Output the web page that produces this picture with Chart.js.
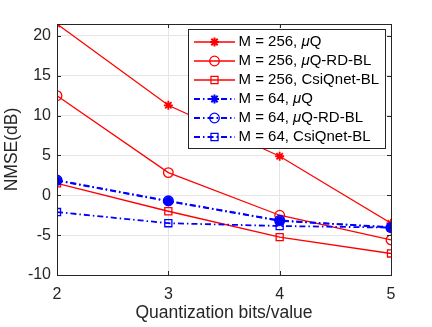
<!DOCTYPE html>
<html>
<head>
<meta charset="utf-8">
<script src="https://cdn.jsdelivr.net/npm/chart.js@4"></script>
<style>
  body { margin: 0; background: #fff; }
  #wrap { width: 432px; height: 327px; }
</style>
</head>
<body>
<div id="wrap"><canvas id="nmse-chart" width="432" height="327"></canvas></div>
<script>
// Data
var bits = [2, 3, 4, 5];
var yTicks = [-10, -5, 0, 5, 10, 15, 20];

var m256_uq = [21.5, 11.3, 4.9, -3.5];
var m256_uqrd = [12.5, 2.85, -2.5, -5.6];
var m256_csiq = [1.5, -2.0, -5.25, -7.3];
var m64_uq = [1.85, -0.75, -3.2, -4.0];
var m64_uqrd = [1.9, -0.7, -3.15, -4.05];
var m64_csiq = [-2.1, -3.5, -3.85, -4.05];

var seriesLabels = [
    "M = 256, μQ",
    "M = 256, μQ-RD-BL",
    "M = 256, CsiQnet-BL",
    "M = 64, μQ",
    "M = 64, μQ-RD-BL",
    "M = 64, CsiQnet-BL"
];

var RED = "#ff0000";
var BLUE = "#0000ff";
var INK = "#262626";
var FONT = "'Liberation Sans', Arial, sans-serif";

function makeSet(label, values, color, marker, dashed, radius, markerWidth) {
    var pts = [];
    for (var i = 0; i < bits.length; i++) {
        pts.push({ x: bits[i], y: values[i] });
    }
    return {
        label: label,
        data: pts,
        borderColor: color,
        backgroundColor: "rgba(0,0,0,0)",
        borderWidth: dashed ? 1.8 : 1.3,
        borderDash: dashed ? [6, 3, 1.5, 3] : [],
        pointStyle: marker,
        pointRadius: radius,
        pointBorderWidth: markerWidth,
        pointBorderColor: color,
        pointBackgroundColor: "rgba(0,0,0,0)",
        tension: 0,
        fill: false
    };
}

var datasets = [
    makeSet(seriesLabels[0], m256_uq, RED, "star", false, 4.5, 1.8),
    makeSet(seriesLabels[1], m256_uqrd, RED, "circle", false, 4.8, 1.3),
    makeSet(seriesLabels[2], m256_csiq, RED, "rect", false, 5, 1.3),
    makeSet(seriesLabels[3], m64_uq, BLUE, "star", true, 4.5, 3.2),
    makeSet(seriesLabels[4], m64_uqrd, BLUE, "circle", true, 4.8, 1.6),
    makeSet(seriesLabels[5], m64_csiq, BLUE, "rect", true, 5, 1.3)
];
// matlab style: later series on top
for (var d = 0; d < datasets.length; d++) {
    datasets[d].order = datasets.length - d;
}

// Box around the axes + inward tick marks
var boxPlugin = {
    id: "box",
    afterDraw: function (chart) {
        var ctx = chart.ctx, a = chart.chartArea;
        var xs = chart.scales.x, ys = chart.scales.y;
        ctx.save();
        ctx.strokeStyle = INK;
        ctx.lineWidth = 1;
        ctx.beginPath();
        for (var i = 0; i < bits.length; i++) {
            var px = Math.round(xs.getPixelForValue(bits[i])) + 0.5;
            ctx.moveTo(px, a.bottom); ctx.lineTo(px, a.bottom - 4);
            ctx.moveTo(px, a.top); ctx.lineTo(px, a.top + 4);
        }
        for (var j = 0; j < yTicks.length; j++) {
            var py = Math.round(ys.getPixelForValue(yTicks[j])) + 0.5;
            ctx.moveTo(a.left, py); ctx.lineTo(a.left + 4, py);
            ctx.moveTo(a.right, py); ctx.lineTo(a.right - 4, py);
        }
        ctx.stroke();
        ctx.strokeRect(Math.round(a.left) + 0.5, Math.round(a.top) + 0.5,
            Math.round(a.right - a.left), Math.round(a.bottom - a.top));
        ctx.restore();
    }
};

// Legend with line + marker samples, mu in italic
var legendPlugin = {
    id: "matlabLegend",
    afterDraw: function (chart) {
        var ctx = chart.ctx;
        var x0 = 188.5, y0 = 29.5, w = 197, h = 119, rowH = 19;
        ctx.save();
        ctx.fillStyle = "#fff";
        ctx.fillRect(x0, y0, w, h);
        ctx.strokeStyle = INK;
        ctx.lineWidth = 1;
        ctx.strokeRect(x0, y0, w, h);
        for (var i = 0; i < datasets.length; i++) {
            var ds = datasets[i];
            var cy = 42 + i * rowH;
            ctx.strokeStyle = ds.borderColor;
            ctx.lineWidth = ds.borderWidth;
            ctx.setLineDash(ds.borderDash);
            ctx.beginPath();
            ctx.moveTo(194, cy);
            ctx.lineTo(235, cy);
            ctx.stroke();
            ctx.setLineDash([]);
            // marker, hollow like matlab
            var mw = ds.pointStyle == "star" ? 2 : 1.3;
            ctx.lineWidth = mw;
            ctx.fillStyle = "rgba(0,0,0,0)";
            Chart.helpers.drawPoint(ctx, {
                pointStyle: ds.pointStyle,
                radius: ds.pointRadius,
                borderWidth: mw,
                rotation: 0
            }, 214.5, cy);

            // text
            var parts = ds.label.split("μ");
            var tx = 238.5;
            ctx.fillStyle = "#000";
            ctx.textBaseline = "middle";
            ctx.textAlign = "left";
            for (var p = 0; p < parts.length; p++) {
                if (p > 0) {
                    ctx.font = "italic 15px " + FONT;
                    ctx.fillText("μ", tx, cy);
                    tx += ctx.measureText("μ").width;
                }
                ctx.font = "15px " + FONT;
                ctx.fillText(parts[p], tx, cy);
                tx += ctx.measureText(parts[p]).width;
            }
        }
        ctx.restore();
    }
};

new Chart(document.getElementById("nmse-chart"), {
    type: "line",
    data: { datasets: datasets },
    options: {
        responsive: false,
        animation: false,
        layout: { padding: { top: 24, right: 41, left: 0, bottom: 0 } },
        plugins: {
            legend: { display: false },
            tooltip: { enabled: false }
        },
        scales: {
            x: {
                type: "linear",
                min: 2,
                max: 5,
                afterBuildTicks: function (scale) {
                    scale.ticks = bits.map(function (v) { return { value: v }; });
                },
                afterFit: function (scale) { scale.height = 52; },
                grid: { color: "#e5e5e5", drawTicks: false },
                border: { display: false },
                ticks: {
                    padding: 10,
                    color: INK,
                    font: { family: FONT, size: 16 },
                    maxRotation: 0
                },
                title: {
                    display: true,
                    text: "Quantization bits/value",
                    color: INK,
                    font: { family: FONT, size: 17.5 },
                    padding: { top: 0, bottom: 3 }
                }
            },
            y: {
                min: -10,
                max: 21.5,
                afterBuildTicks: function (scale) {
                    scale.ticks = yTicks.map(function (v) { return { value: v }; });
                },
                afterFit: function (scale) { scale.width = 57; },
                grid: { color: "#e5e5e5", drawTicks: false },
                border: { display: false },
                ticks: {
                    padding: 6,
                    color: INK,
                    font: { family: FONT, size: 16 }
                },
                title: {
                    display: true,
                    text: "NMSE(dB)",
                    color: INK,
                    font: { family: FONT, size: 17.5 },
                    padding: { top: 2, bottom: 0 }
                }
            }
        }
    },
    plugins: [boxPlugin, legendPlugin]
});
</script>
</body>
</html>
